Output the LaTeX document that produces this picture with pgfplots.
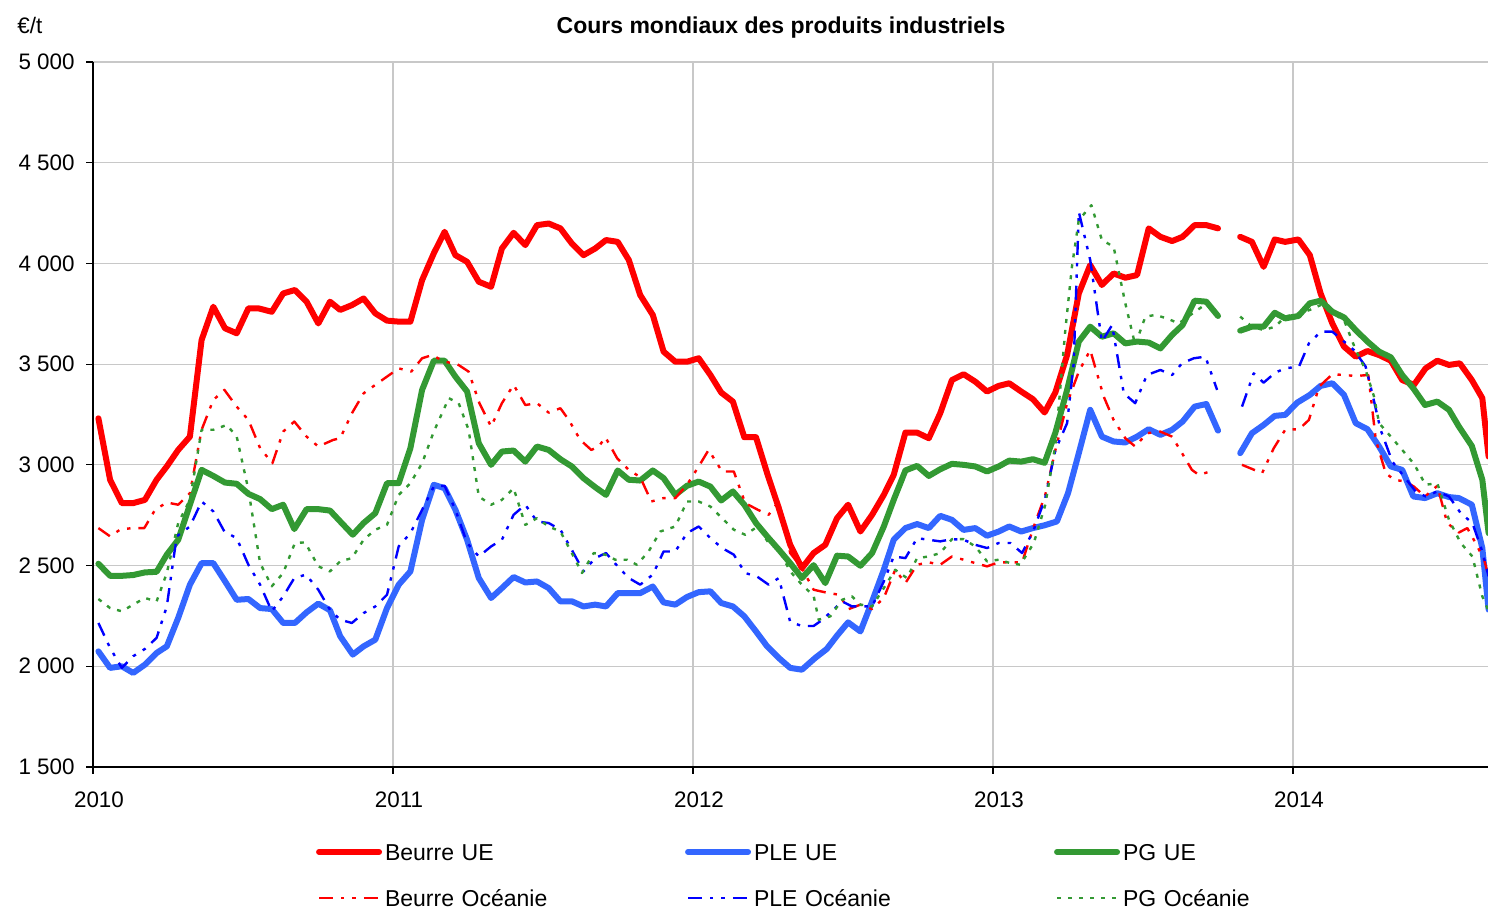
\documentclass[border=0pt]{standalone}
\usepackage{fontspec}
\setmainfont{Liberation Sans}
\usepackage{pgfplots}
\pgfplotsset{compat=1.18}
\definecolor{cRed}{RGB}{255,0,0}
\definecolor{cBlueT}{RGB}{51,102,255}
\definecolor{cGreen}{RGB}{51,153,51}
\definecolor{cBlue}{RGB}{0,0,255}
\definecolor{cGrid}{RGB}{200,200,200}
\begin{document}
\begin{tikzpicture}
\begin{axis}[
  scale only axis,
  width=697.5bp, height=352.5bp,
  xmin=2010, xmax=2014.65,
  ymin=1500, ymax=5000,
  axis x line*=bottom, axis y line*=left,
  axis line style={black, line width=0.6bp},
  xtick={2010,2011,2012,2013,2014},
  xticklabels={2010,2011,2012,2013,2014},
  ytick={1500,2000,2500,3000,3500,4000,4500,5000},
  yticklabels={1 500,2 000,2 500,3 000,3 500,4 000,4 500,5 000},
  tick align=outside,
  major tick length=3.5bp,
  tick style={black, line width=0.6bp},
  grid=major,
  major grid style={cGrid, line width=0.6bp},
  font=\fontsize{11.2bp}{13bp}\selectfont,
  ticklabel style={font=\fontsize{11.2bp}{13bp}\selectfont},
  yticklabel style={inner xsep=0pt, xshift=-5.5bp},
  xticklabel style={inner ysep=0pt, yshift=-8.5bp, xshift=3bp},
  unbounded coords=jump,
  line join=round,
  legend columns=3,
  legend cell align=left,
  legend style={
    at={(0.1599,-0.1078)}, anchor=north west,
    draw=none, fill=none, inner sep=0pt, outer sep=0pt,
    font=\fontsize{11.5bp}{13bp}\selectfont,
    nodes={inner sep=0pt, text height=9bp, text depth=3bp, text width=140bp},
    row sep=11bp,
    /tikz/every odd column/.append style={column sep=1.5bp},
    /tikz/every even column/.append style={column sep=10bp},
  },
  legend image code/.code={\draw[#1] (1.5bp,1.5bp) -- (31.5bp,1.5bp);},
]
% Beurre UE
\addplot[cRed, line width=3bp, line cap=round] coordinates {
(2010.018,3231) (2010.057,2926) (2010.096,2810) (2010.134,2810) (2010.173,2826) (2010.212,2926) (2010.246,2992) (2010.284,3074) (2010.323,3140) (2010.362,3620) (2010.401,3785) (2010.440,3678) (2010.479,3653) (2010.518,3777) (2010.551,3777) (2010.596,3760) (2010.634,3851) (2010.673,3868) (2010.712,3810) (2010.751,3702) (2010.790,3810) (2010.824,3769) (2010.863,3793) (2010.902,3826) (2010.941,3752) (2010.980,3716) (2011.019,3711) (2011.058,3711) (2011.097,3917) (2011.136,4050) (2011.172,4157) (2011.208,4041) (2011.247,4008) (2011.286,3909) (2011.327,3884) (2011.363,4074) (2011.402,4152) (2011.441,4091) (2011.480,4190) (2011.519,4198) (2011.558,4174) (2011.596,4099) (2011.635,4041) (2011.674,4074) (2011.710,4116) (2011.749,4107) (2011.786,4017) (2011.824,3843) (2011.866,3744) (2011.902,3562) (2011.941,3512) (2011.980,3512) (2012.019,3529) (2012.058,3446) (2012.094,3359) (2012.133,3314) (2012.171,3137) (2012.210,3137) (2012.247,2959) (2012.286,2785) (2012.324,2603) (2012.363,2487) (2012.402,2562) (2012.441,2603) (2012.480,2735) (2012.517,2802) (2012.558,2669) (2012.597,2752) (2012.636,2851) (2012.669,2950) (2012.708,3160) (2012.747,3160) (2012.786,3132) (2012.824,3256) (2012.863,3421) (2012.902,3450) (2012.941,3413) (2012.980,3364) (2013.019,3392) (2013.054,3405) (2013.094,3364) (2013.133,3326) (2013.172,3260) (2013.208,3360) (2013.247,3545) (2013.286,3851) (2013.324,3992) (2013.363,3893) (2013.402,3950) (2013.441,3929) (2013.480,3942) (2013.519,4174) (2013.558,4132) (2013.597,4111) (2013.632,4132) (2013.672,4190) (2013.711,4190) (2013.750,4174) (2013.79,nan) (2013.824,4132) (2013.863,4107) (2013.902,3983) (2013.939,4119) (2013.974,4107) (2014.018,4119) (2014.056,4041) (2014.092,3851) (2014.131,3702) (2014.170,3587) (2014.209,3537) (2014.248,3565) (2014.287,3545) (2014.326,3517) (2014.364,3421) (2014.403,3397) (2014.442,3479) (2014.481,3517) (2014.520,3496) (2014.556,3504) (2014.596,3421) (2014.631,3331) (2014.652,3041)
};
\addlegendentry{Beurre UE}
% PLE UE
\addplot[cBlueT, line width=3bp, line cap=round] coordinates {
(2010.018,2074) (2010.057,1992) (2010.096,2000) (2010.134,1967) (2010.173,2008) (2010.212,2066) (2010.246,2099) (2010.284,2240) (2010.323,2405) (2010.362,2512) (2010.401,2512) (2010.440,2422) (2010.479,2330) (2010.518,2334) (2010.557,2289) (2010.596,2284) (2010.634,2215) (2010.673,2215) (2010.712,2268) (2010.751,2311) (2010.790,2278) (2010.824,2149) (2010.866,2058) (2010.902,2099) (2010.941,2132) (2010.980,2289) (2011.019,2405) (2011.058,2471) (2011.097,2727) (2011.136,2901) (2011.172,2884) (2011.208,2777) (2011.247,2628) (2011.286,2438) (2011.327,2339) (2011.363,2388) (2011.402,2443) (2011.441,2416) (2011.480,2421) (2011.519,2388) (2011.558,2322) (2011.597,2322) (2011.635,2297) (2011.674,2306) (2011.710,2297) (2011.749,2363) (2011.786,2363) (2011.824,2363) (2011.866,2396) (2011.902,2317) (2011.941,2306) (2011.980,2344) (2012.019,2368) (2012.058,2372) (2012.094,2314) (2012.133,2297) (2012.171,2248) (2012.210,2173) (2012.247,2099) (2012.286,2041) (2012.324,1992) (2012.363,1983) (2012.407,2041) (2012.446,2086) (2012.480,2152) (2012.517,2218) (2012.558,2173) (2012.597,2322) (2012.636,2479) (2012.669,2628) (2012.708,2686) (2012.747,2706) (2012.786,2686) (2012.824,2747) (2012.863,2727) (2012.902,2677) (2012.941,2686) (2012.980,2648) (2013.019,2669) (2013.054,2694) (2013.094,2669) (2013.133,2686) (2013.172,2700) (2013.213,2719) (2013.250,2859) (2013.286,3058) (2013.324,3273) (2013.363,3140) (2013.402,3116) (2013.441,3111) (2013.480,3140) (2013.519,3177) (2013.558,3149) (2013.597,3174) (2013.632,3215) (2013.672,3289) (2013.711,3302) (2013.750,3170) (2013.79,nan) (2013.824,3058) (2013.863,3157) (2013.902,3198) (2013.939,3243) (2013.974,3248) (2014.014,3309) (2014.056,3347) (2014.092,3392) (2014.131,3405) (2014.170,3347) (2014.209,3207) (2014.248,3177) (2014.287,3091) (2014.326,2992) (2014.364,2975) (2014.401,2843) (2014.440,2835) (2014.481,2859) (2014.520,2840) (2014.553,2835) (2014.596,2802) (2014.631,2587) (2014.652,2281)
};
\addlegendentry{PLE UE}
% PG UE
\addplot[cGreen, line width=3bp, line cap=round] coordinates {
(2010.018,2509) (2010.057,2449) (2010.096,2449) (2010.134,2453) (2010.173,2466) (2010.212,2469) (2010.246,2554) (2010.284,2628) (2010.323,2802) (2010.362,2975) (2010.401,2945) (2010.440,2912) (2010.479,2906) (2010.518,2856) (2010.557,2830) (2010.596,2780) (2010.634,2802) (2010.671,2681) (2010.712,2780) (2010.751,2780) (2010.790,2773) (2010.824,2719) (2010.866,2653) (2010.902,2711) (2010.941,2760) (2010.980,2909) (2011.019,2909) (2011.058,3083) (2011.097,3372) (2011.136,3517) (2011.172,3517) (2011.208,3438) (2011.247,3364) (2011.286,3107) (2011.327,3000) (2011.363,3066) (2011.402,3071) (2011.441,3016) (2011.480,3091) (2011.519,3074) (2011.558,3028) (2011.596,2992) (2011.635,2934) (2011.674,2889) (2011.710,2851) (2011.749,2972) (2011.786,2926) (2011.824,2922) (2011.866,2972) (2011.902,2934) (2011.941,2851) (2011.980,2896) (2012.019,2917) (2012.058,2892) (2012.094,2823) (2012.133,2868) (2012.171,2802) (2012.210,2711) (2012.247,2645) (2012.286,2579) (2012.324,2512) (2012.363,2438) (2012.402,2502) (2012.441,2413) (2012.480,2549) (2012.517,2545) (2012.558,2499) (2012.597,2562) (2012.636,2694) (2012.669,2826) (2012.708,2972) (2012.747,2995) (2012.786,2945) (2012.824,2978) (2012.863,3005) (2012.902,3000) (2012.941,2992) (2012.980,2967) (2013.019,2992) (2013.054,3021) (2013.094,3016) (2013.133,3028) (2013.172,3010) (2013.208,3160) (2013.247,3372) (2013.286,3612) (2013.324,3686) (2013.363,3636) (2013.402,3653) (2013.441,3603) (2013.480,3612) (2013.519,3607) (2013.558,3578) (2013.597,3645) (2013.632,3694) (2013.672,3815) (2013.711,3810) (2013.750,3739) (2013.79,nan) (2013.824,3666) (2013.863,3686) (2013.902,3686) (2013.939,3755) (2013.974,3727) (2014.018,3739) (2014.056,3802) (2014.092,3815) (2014.131,3760) (2014.170,3732) (2014.209,3669) (2014.248,3612) (2014.287,3562) (2014.326,3534) (2014.364,3446) (2014.401,3380) (2014.440,3297) (2014.481,3314) (2014.520,3273) (2014.553,3190) (2014.596,3094) (2014.631,2926) (2014.652,2661)
};
\addlegendentry{PG UE}
% Beurre Oceanie
\addplot[cRed, line width=1.2bp, dash pattern=on 7bp off 4bp on 1.7bp off 4bp on 1.7bp off 4bp] coordinates {
(2010.018,2686) (2010.057,2645) (2010.090,2678) (2010.129,2686) (2010.171,2686) (2010.207,2777) (2010.246,2813) (2010.284,2802) (2010.323,2859) (2010.362,3174) (2010.401,3322) (2010.438,3372) (2010.479,3289) (2010.518,3223) (2010.557,3083) (2010.598,3008) (2010.634,3165) (2010.671,3215) (2010.712,3140) (2010.751,3091) (2010.801,3124) (2010.824,3132) (2010.863,3256) (2010.902,3355) (2010.941,3397) (2010.980,3438) (2011.019,3479) (2011.061,3463) (2011.097,3529) (2011.130,3545) (2011.172,3512) (2011.213,3501) (2011.252,3463) (2011.288,3306) (2011.327,3190) (2011.363,3306) (2011.402,3397) (2011.441,3297) (2011.480,3306) (2011.519,3259) (2011.558,3281) (2011.586,3223) (2011.624,3124) (2011.661,3074) (2011.686,3091) (2011.708,3137) (2011.747,3033) (2011.786,2975) (2011.824,2939) (2011.861,2818) (2011.902,2835) (2011.941,2835) (2011.980,2901) (2012.019,2992) (2012.052,3074) (2012.097,2967) (2012.136,2967) (2012.174,2810) (2012.216,2777) (2012.252,2752) (2012.286,2818) (2012.324,2562) (2012.363,2487) (2012.402,2380) (2012.441,2367) (2012.486,2355) (2012.519,2284) (2012.558,2306) (2012.597,2284) (2012.636,2339) (2012.674,2479) (2012.708,2413) (2012.747,2504) (2012.786,2516) (2012.824,2504) (2012.863,2545) (2012.902,2529) (2012.941,2512) (2012.980,2496) (2013.019,2516) (2013.058,2516) (2013.097,2516) (2013.136,2694) (2013.174,2850) (2013.208,3074) (2013.247,3306) (2013.286,3463) (2013.324,3570) (2013.369,3339) (2013.402,3223) (2013.441,3132) (2013.474,3091) (2013.513,3157) (2013.558,3165) (2013.597,3140) (2013.630,3058) (2013.663,2975) (2013.686,2950) (2013.724,2967) (2013.79,nan) (2013.830,3000) (2013.897,2959) (2013.936,3083) (2013.974,3174) (2014.020,3177) (2014.053,3223) (2014.087,3388) (2014.131,3450) (2014.170,3446) (2014.209,3441) (2014.251,3446) (2014.276,3124) (2014.309,2959) (2014.337,2926) (2014.376,2917) (2014.403,2892) (2014.440,2843) (2014.481,2896) (2014.514,2711) (2014.553,2664) (2014.581,2686) (2014.609,2611) (2014.637,2529) (2014.652,2446)
};
\addlegendentry{Beurre Océanie}
% PLE Oceanie
\addplot[cBlue, line width=1.2bp, dash pattern=on 7bp off 4bp on 1.7bp off 4bp on 1.7bp off 4bp] coordinates {
(2010.018,2215) (2010.057,2091) (2010.096,1992) (2010.134,2050) (2010.173,2086) (2010.212,2141) (2010.246,2297) (2010.279,2645) (2010.323,2694) (2010.362,2818) (2010.401,2769) (2010.438,2669) (2010.479,2636) (2010.518,2504) (2010.557,2405) (2010.596,2273) (2010.634,2347) (2010.671,2438) (2010.710,2455) (2010.751,2380) (2010.790,2280) (2010.824,2231) (2010.863,2215) (2010.902,2264) (2010.941,2297) (2010.980,2355) (2011.019,2595) (2011.058,2661) (2011.097,2777) (2011.136,2892) (2011.172,2896) (2011.208,2777) (2011.247,2612) (2011.286,2545) (2011.327,2595) (2011.363,2628) (2011.402,2752) (2011.441,2802) (2011.480,2719) (2011.519,2711) (2011.558,2678) (2011.596,2578) (2011.635,2471) (2011.674,2537) (2011.710,2562) (2011.749,2496) (2011.786,2438) (2011.824,2405) (2011.866,2455) (2011.902,2570) (2011.941,2570) (2011.980,2661) (2012.019,2694) (2012.058,2636) (2012.097,2587) (2012.136,2554) (2012.174,2463) (2012.213,2446) (2012.252,2405) (2012.286,2438) (2012.324,2220) (2012.363,2200) (2012.402,2200) (2012.424,2223) (2012.463,2273) (2012.497,2322) (2012.530,2297) (2012.558,2297) (2012.597,2297) (2012.636,2421) (2012.669,2545) (2012.708,2537) (2012.747,2636) (2012.786,2628) (2012.824,2620) (2012.863,2631) (2012.902,2628) (2012.941,2603) (2012.980,2587) (2013.019,2612) (2013.058,2612) (2013.097,2562) (2013.136,2678) (2013.174,2835) (2013.208,3074) (2013.247,3207) (2013.269,3504) (2013.286,4256) (2013.324,4017) (2013.363,3612) (2013.397,3694) (2013.436,3355) (2013.474,3306) (2013.513,3446) (2013.558,3471) (2013.597,3446) (2013.630,3504) (2013.669,3529) (2013.708,3537) (2013.747,3372) (2013.79,nan) (2013.830,3289) (2013.869,3454) (2013.902,3408) (2013.941,3458) (2013.974,3479) (2014.020,3488) (2014.053,3603) (2014.092,3661) (2014.131,3661) (2014.164,3620) (2014.203,3570) (2014.242,3488) (2014.264,3355) (2014.292,3174) (2014.331,3016) (2014.370,2942) (2014.409,2868) (2014.442,2843) (2014.481,2868) (2014.520,2843) (2014.559,2760) (2014.598,2711) (2014.631,2570) (2014.652,2446)
};
\addlegendentry{PLE Océanie}
% PG Oceanie
\addplot[cGreen, line width=1.2bp, dash pattern=on 2bp off 3.5bp] coordinates {
(2010.018,2334) (2010.057,2289) (2010.096,2273) (2010.134,2306) (2010.173,2339) (2010.212,2322) (2010.246,2463) (2010.284,2711) (2010.323,2826) (2010.362,3174) (2010.401,3174) (2010.446,3198) (2010.479,3140) (2010.518,2876) (2010.557,2512) (2010.596,2397) (2010.634,2463) (2010.673,2612) (2010.707,2615) (2010.751,2496) (2010.790,2471) (2010.824,2521) (2010.863,2537) (2010.902,2628) (2010.941,2678) (2010.980,2702) (2011.019,2851) (2011.058,2909) (2011.097,3008) (2011.136,3165) (2011.186,3331) (2011.219,3306) (2011.252,3174) (2011.286,2843) (2011.327,2802) (2011.363,2826) (2011.402,2884) (2011.441,2702) (2011.480,2735) (2011.519,2694) (2011.558,2669) (2011.596,2562) (2011.630,2463) (2011.669,2562) (2011.708,2554) (2011.741,2529) (2011.780,2529) (2011.813,2504) (2011.852,2570) (2011.891,2669) (2011.941,2694) (2011.980,2818) (2012.019,2818) (2012.058,2793) (2012.097,2735) (2012.136,2678) (2012.174,2653) (2012.216,2694) (2012.252,2612) (2012.286,2579) (2012.324,2471) (2012.363,2405) (2012.402,2350) (2012.419,2231) (2012.458,2248) (2012.497,2330) (2012.530,2347) (2012.558,2306) (2012.597,2297) (2012.636,2388) (2012.674,2479) (2012.713,2438) (2012.747,2537) (2012.786,2545) (2012.824,2562) (2012.863,2631) (2012.902,2631) (2012.941,2595) (2012.980,2521) (2013.019,2529) (2013.058,2512) (2013.091,2504) (2013.136,2612) (2013.174,2800) (2013.208,3100) (2013.241,3669) (2013.263,3983) (2013.286,4215) (2013.328,4289) (2013.363,4116) (2013.402,4083) (2013.441,3802) (2013.474,3595) (2013.508,3736) (2013.541,3744) (2013.580,3727) (2013.619,3702) (2013.658,3744) (2013.697,3785) (2013.730,3793) (2013.79,nan) (2013.824,3736) (2013.863,3686) (2013.902,3669) (2013.941,3686) (2013.974,3736) (2014.020,3752) (2014.056,3769) (2014.092,3793) (2014.131,3752) (2014.170,3719) (2014.209,3570) (2014.242,3471) (2014.270,3339) (2014.287,3207) (2014.326,3140) (2014.364,3074) (2014.403,3005) (2014.442,2901) (2014.481,2909) (2014.520,2727) (2014.559,2612) (2014.598,2545) (2014.631,2347) (2014.652,2273)
};
\addlegendentry{PG Océanie}
\coordinate (eu) at (rel axis cs:-0.0545,1.0411);
\coordinate (ti) at (rel axis cs:0.4932,1.0411);
\coordinate (bbl) at (rel axis cs:-0.06667,-0.20142);
\coordinate (btr) at (rel axis cs:1,1.08794);
\end{axis}
\node[anchor=base west, inner sep=0pt, font=\fontsize{11.2bp}{13bp}\selectfont] at (eu) {€/t};
\node[anchor=base, inner sep=0pt, font=\fontsize{11.5bp}{13bp}\selectfont\bfseries] at (ti) {Cours mondiaux des produits industriels};
\pgfresetboundingbox
\useasboundingbox (bbl) rectangle (btr);
\end{tikzpicture}
\end{document}
